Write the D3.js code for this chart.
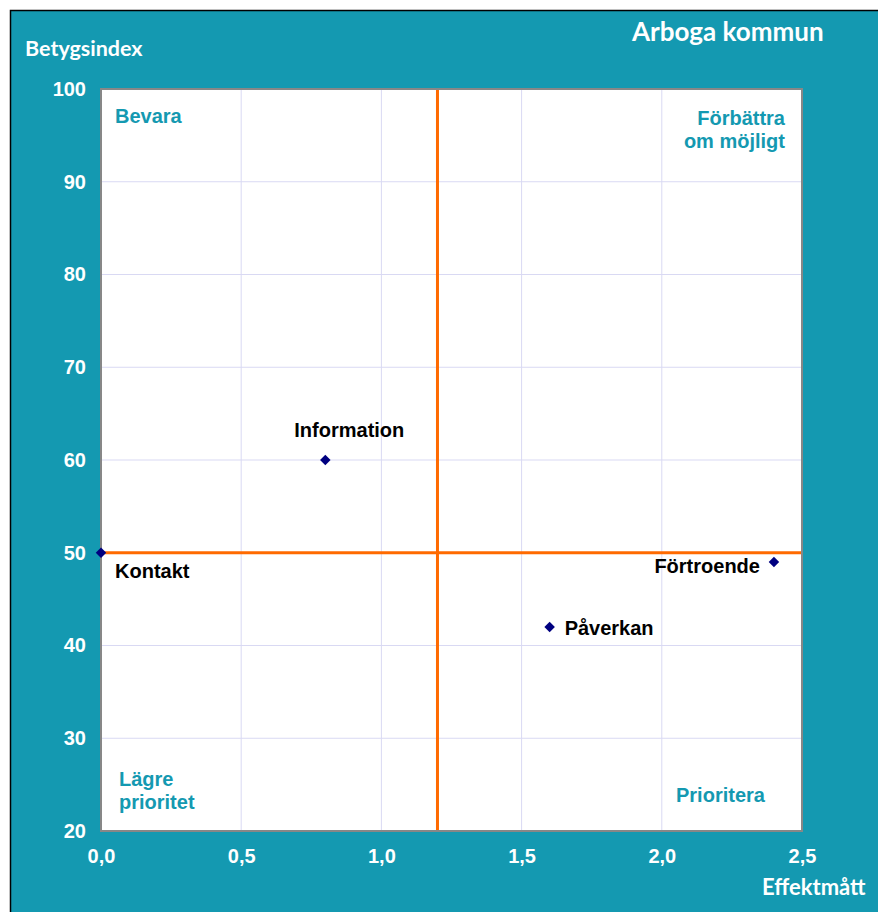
<!DOCTYPE html>
<html>
<head>
<meta charset="utf-8">
<script src="https://cdn.jsdelivr.net/npm/d3@7"></script>
<style>
  body { margin: 0; background: #fff; }
  svg { display: block; }
</style>
</head>
<body>
<svg id="svg" width="878" height="912"></svg>
<script>
// chart data
var names = ['Kontakt', 'Information', 'Påverkan', 'Förtroende'];
var effekt = [0.0, 0.8, 1.6, 2.4];
var betyg = [50, 60, 42, 49];
var xTicks = [0, 0.5, 1.0, 1.5, 2.0, 2.5];
var yTicks = [20, 30, 40, 50, 60, 70, 80, 90, 100];
var xSplit = 1.2;
var ySplit = 50;

var teal = '#1499b1';
var svg = d3.select('#svg');
var labelFont = 'Liberation Sans, Arial, sans-serif';

// frame of the whole chart
svg.append('rect')
  .attr('x', 10).attr('y', 10)
  .attr('width', 878).attr('height', 912)
  .attr('fill', teal);
svg.append('path')
  .attr('d', 'M10.5,912V10.5H878')
  .attr('fill', 'none')
  .attr('stroke', '#000')
  .attr('stroke-width', 1.5);

var plot = { left: 101, top: 89, right: 802, bottom: 831 };

var x = d3.scaleLinear().domain([0, 2.5]).range([plot.left, plot.right]);
var y = d3.scaleLinear().domain([20, 100]).range([plot.bottom, plot.top]);

svg.append('rect')
  .attr('x', plot.left).attr('y', plot.top)
  .attr('width', plot.right - plot.left)
  .attr('height', plot.bottom - plot.top)
  .attr('fill', '#fff');

// gridlines
var grid = svg.append('g');
grid.selectAll('.gx')
  .data(xTicks.slice(1, -1))
  .enter().append('line')
  .attr('x1', d => x(d)).attr('x2', d => x(d))
  .attr('y1', plot.top).attr('y2', plot.bottom)
  .attr('stroke', '#d9d9f3').attr('stroke-width', 1);
grid.selectAll('.gy')
  .data(yTicks.slice(1, -1))
  .enter().append('line')
  .attr('y1', d => y(d)).attr('y2', d => y(d))
  .attr('x1', plot.left).attr('x2', plot.right)
  .attr('stroke', '#d9d9f3').attr('stroke-width', 1);

// quadrant split lines
svg.append('line')
  .attr('x1', x(xSplit)).attr('x2', x(xSplit))
  .attr('y1', plot.top).attr('y2', plot.bottom)
  .attr('stroke', '#ff6a00').attr('stroke-width', 3);
svg.append('line')
  .attr('x1', plot.left).attr('x2', plot.right)
  .attr('y1', y(ySplit)).attr('y2', y(ySplit))
  .attr('stroke', '#ff6a00').attr('stroke-width', 3);

// plot border
svg.append('rect')
  .attr('x', plot.left).attr('y', plot.top)
  .attr('width', plot.right - plot.left)
  .attr('height', plot.bottom - plot.top)
  .attr('fill', 'none')
  .attr('stroke', '#878787').attr('stroke-width', 2);

// axes
var xAxis = d3.axisBottom(x).tickValues(xTicks).tickSize(0).tickPadding(18)
  .tickFormat(d => d3.format('.1f')(d).replace('.', ','));
var gx = svg.append('g').attr('transform', 'translate(0,' + plot.bottom + ')').call(xAxis);
var yAxis = d3.axisLeft(y).tickValues(yTicks).tickSize(0).tickPadding(15);
var gy = svg.append('g').attr('transform', 'translate(' + plot.left + ',0)').call(yAxis);
[gx, gy].forEach(function(g) {
  g.select('.domain').remove();
  g.selectAll('text')
    .attr('fill', '#fff')
    .style('font-family', labelFont)
    .style('font-weight', 'bold')
    .style('font-size', '20px');
});

// points
var sym = d3.symbol().type(d3.symbolDiamond2).size(70);
svg.selectAll('.pt')
  .data(names)
  .enter().append('path')
  .attr('d', sym)
  .attr('transform', (d, i) => 'translate(' + x(effekt[i]) + ',' + y(betyg[i]) + ')')
  .attr('fill', '#000080');

// point labels
var labelPos = {
  'Kontakt': { dx: 14, dy: 25, anchor: 'start' },
  'Information': { dx: 24, dy: -23, anchor: 'middle' },
  'Påverkan': { dx: 15, dy: 8, anchor: 'start' },
  'Förtroende': { dx: -14, dy: 11, anchor: 'end' }
};
svg.selectAll('.lbl')
  .data(names)
  .enter().append('text')
  .attr('x', (d, i) => x(effekt[i]) + labelPos[d].dx)
  .attr('y', (d, i) => y(betyg[i]) + labelPos[d].dy)
  .attr('text-anchor', d => labelPos[d].anchor)
  .style('font-family', labelFont)
  .style('font-weight', 'bold')
  .style('font-size', '20px')
  .attr('fill', '#000')
  .text(d => d);

// quadrant labels
function quad(lines, px, py, anchor) {
  var t = svg.append('text')
    .attr('text-anchor', anchor)
    .style('font-family', labelFont)
    .style('font-weight', 'bold')
    .style('font-size', '20px')
    .attr('fill', teal);
  lines.forEach(function(s, i) {
    t.append('tspan').attr('x', px).attr('y', py + i * 23).text(s);
  });
}
quad(['Bevara'], 115, 123, 'start');
quad(['Förbättra', 'om möjligt'], 785, 125, 'end');
quad(['Lägre', 'prioritet'], 119, 786, 'start');
quad(['Prioritera'], 676, 802, 'start');

// titles
var titleFont = 'Lato, Open Sans, sans-serif';
svg.append('text')
  .attr('x', 25).attr('y', 56)
  .style('font-family', titleFont).style('font-weight', 'bold').style('font-size', '21.5px')
  .attr('fill', '#fff').text('Betygsindex');
svg.append('text')
  .attr('x', 632).attr('y', 41)
  .style('font-family', titleFont).style('font-weight', 'bold').style('font-size', '26px')
  .attr('fill', '#fff').text('Arboga kommun');
svg.append('text')
  .attr('x', 762).attr('y', 895)
  .style('font-family', titleFont).style('font-weight', 'bold').style('font-size', '22px')
  .attr('fill', '#fff').text('Effektmått');
</script>
</body>
</html>
